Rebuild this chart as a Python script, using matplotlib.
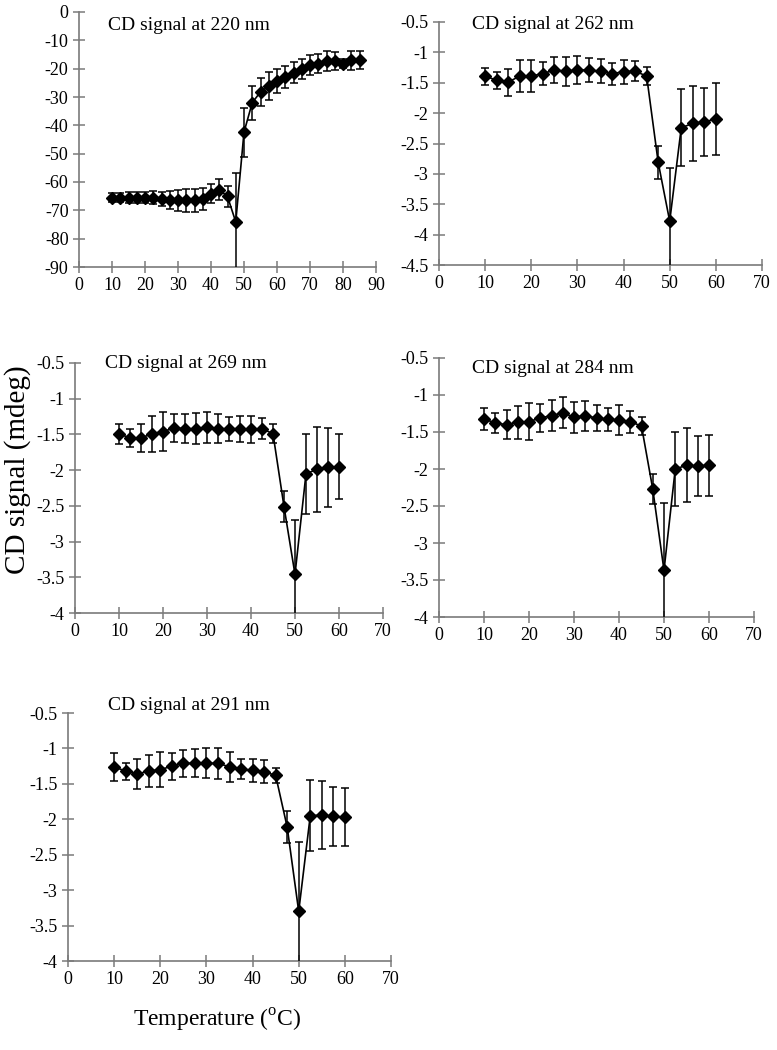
import matplotlib
matplotlib.use("Agg")
import matplotlib.pyplot as plt
import numpy as np

plt.rcParams['font.family'] = ['Liberation Serif', 'DejaVu Serif']
plt.rcParams['mathtext.fontset'] = 'custom'
plt.rcParams['mathtext.rm'] = 'Liberation Serif'

# ---- data ----
temp_220 = [10, 12.5, 15, 17.5, 20, 22.5, 25, 27.5, 30, 32.5, 35, 37.5, 40, 42.5, 45,
            47.5, 50, 52.5, 55, 57.5, 60, 62.5, 65, 67.5, 70, 72.5, 75, 77.5, 80, 82.5, 85]
cd_220 = [-65.5, -65.5, -65.5, -65.5, -65.5, -65.5, -65.9, -66.2, -66.5, -66.5, -66.5, -65.9,
          -64.1, -62.7, -65.1, -74.1, -42.4, -32.0, -28.2, -26.2, -24.4, -22.9, -21.5, -20.2,
          -18.8, -18.2, -17.4, -17.3, -18.2, -17.1, -16.8]
err_220 = [1.6, 1.7, 2.0, 2.0, 2.0, 2.2, 2.4, 3.2, 3.8, 4.0, 4.0, 3.9, 3.4, 3.7, 3.7,
           17.4, 8.6, 6.0, 4.9, 4.9, 4.2, 3.8, 3.7, 3.6, 3.5, 3.4, 3.5, 3.2, 1.5, 3.5, 3.2]

temp_short = [10, 12.5, 15, 17.5, 20, 22.5, 25, 27.5, 30, 32.5, 35, 37.5, 40, 42.5, 45,
              47.5, 50, 52.5, 55, 57.5, 60]
cd_262 = [-1.39, -1.46, -1.49, -1.39, -1.39, -1.35, -1.29, -1.31, -1.29, -1.29, -1.31, -1.35,
          -1.32, -1.31, -1.39, -2.81, -3.78, -2.24, -2.17, -2.14, -2.10]
err_262 = [0.14, 0.14, 0.22, 0.26, 0.27, 0.19, 0.22, 0.24, 0.23, 0.20, 0.20, 0.18,
           0.20, 0.16, 0.15, 0.27, 0.88, 0.63, 0.62, 0.56, 0.59]
cd_269 = [-1.49, -1.55, -1.55, -1.49, -1.46, -1.41, -1.42, -1.42, -1.40, -1.42, -1.42, -1.42,
          -1.43, -1.42, -1.49, -2.51, -3.46, -2.05, -1.99, -1.96, -1.95]
err_269 = [0.14, 0.12, 0.20, 0.25, 0.27, 0.20, 0.20, 0.22, 0.22, 0.20, 0.17, 0.18,
           0.19, 0.15, 0.13, 0.22, 0.76, 0.56, 0.60, 0.55, 0.45]
cd_284 = [-1.32, -1.38, -1.40, -1.37, -1.36, -1.31, -1.28, -1.24, -1.30, -1.28, -1.31, -1.33,
          -1.34, -1.36, -1.42, -2.27, -3.37, -2.00, -1.95, -1.96, -1.95]
err_284 = [0.15, 0.14, 0.20, 0.22, 0.25, 0.19, 0.21, 0.21, 0.21, 0.20, 0.18, 0.15,
           0.20, 0.15, 0.12, 0.20, 0.91, 0.50, 0.50, 0.41, 0.41]
cd_291 = [-1.26, -1.32, -1.36, -1.32, -1.30, -1.25, -1.21, -1.21, -1.21, -1.21, -1.26, -1.29,
          -1.31, -1.33, -1.38, -2.11, -3.30, -1.95, -1.94, -1.96, -1.97]
err_291 = [0.20, 0.12, 0.21, 0.23, 0.25, 0.19, 0.19, 0.20, 0.21, 0.22, 0.21, 0.14,
           0.16, 0.16, 0.11, 0.22, 0.98, 0.50, 0.48, 0.41, 0.41]

titles = ["CD signal at 220 nm", "CD signal at 262 nm", "CD signal at 269 nm",
          "CD signal at 284 nm", "CD signal at 291 nm"]
xlabel = r"Temperature ($^{\mathrm{o}}$C)"
ylabel = "CD signal (mdeg)"

# ---- layout ----
W, H = 777, 1050
fig = plt.figure(figsize=(W / 100, H / 100), dpi=100)

def px_axes(l, r, t, b):
    return fig.add_axes([l / W, (H - b) / H, (r - l) / W, (b - t) / H])

panels = [
    dict(box=(79, 376, 12, 267), x=temp_220, y=cd_220, e=err_220, xlim=(0, 90), xt=np.arange(0, 91, 10),
         ylim=(-90, 0), yt=np.arange(-90, 1, 10), tpos=(0.098, 0.949)),
    dict(box=(439, 762, 22, 265), x=temp_short, y=cd_262, e=err_262, xlim=(0, 70), xt=np.arange(0, 71, 10),
         ylim=(-4.5, -0.5), yt=np.arange(-4.5, -0.49, 0.5), tpos=(0.102, 0.99)),
    dict(box=(75, 383, 363, 613), x=temp_short, y=cd_269, e=err_269, xlim=(0, 70), xt=np.arange(0, 71, 10),
         ylim=(-4, -0.5), yt=np.arange(-4, -0.49, 0.5), tpos=(0.097, 1.0)),
    dict(box=(439, 754, 358, 617), x=temp_short, y=cd_284, e=err_284, xlim=(0, 70), xt=np.arange(0, 71, 10),
         ylim=(-4, -0.5), yt=np.arange(-4, -0.49, 0.5), tpos=(0.105, 0.96)),
    dict(box=(68, 391, 713, 961), x=temp_short, y=cd_291, e=err_291, xlim=(0, 70), xt=np.arange(0, 71, 10),
         ylim=(-4, -0.5), yt=np.arange(-4, -0.49, 0.5), tpos=(0.124, 1.03)),
]

axis_color = '#7a7a7a'
for p, title in zip(panels, titles):
    ax = px_axes(*p['box'])
    ax.errorbar(p['x'], p['y'], yerr=p['e'], fmt='-', color='black', lw=1.2,
                marker='D', ms=6, elinewidth=1.1, capsize=3.2, capthick=1.1, zorder=3)
    ax.set_xlim(*p['xlim'])
    ax.set_ylim(*p['ylim'])
    ax.set_xticks(p['xt'])
    ax.set_yticks(p['yt'])
    ax.set_xticklabels(['%g' % v for v in p['xt']])
    ax.set_yticklabels(['%g' % round(v, 2) for v in p['yt']])
    for s in ('top', 'right'):
        ax.spines[s].set_visible(False)
    for s in ('left', 'bottom'):
        ax.spines[s].set_color(axis_color)
        ax.spines[s].set_linewidth(1.2)
    ax.tick_params(direction='inout', length=9, width=1.1, color=axis_color,
                   labelsize=13, labelcolor='black')
    ax.tick_params(axis='x', pad=3)
    ax.tick_params(axis='y', pad=3)
    ax.text(p['tpos'][0], p['tpos'][1], title, transform=ax.transAxes,
            ha='left', va='center', fontsize=14)

fig.text(18 / W, (H - 470) / H, ylabel, rotation=90, ha='center', va='center', fontsize=21)
fig.text(217 / W, (H - 1020) / H, xlabel, ha='center', va='center', fontsize=17)

fig.savefig('out.png', dpi=100)
